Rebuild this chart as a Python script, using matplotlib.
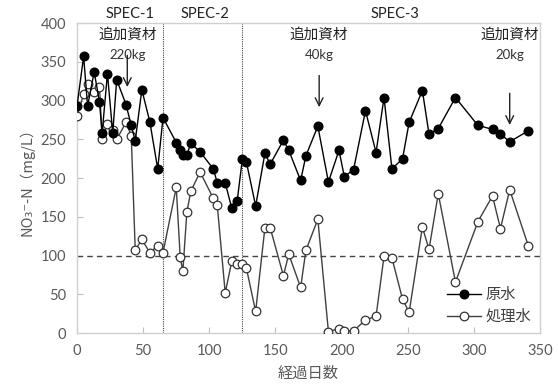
import matplotlib
matplotlib.use("Agg")
import matplotlib.pyplot as plt

plt.rcParams['font.family'] = ['Lato', 'Noto Sans CJK JP', 'DejaVu Sans']

days = [0, 5, 8, 13, 17, 19, 23, 27, 30, 37, 41, 44, 49, 55, 61, 65, 75, 78, 80, 83,
        86, 93, 103, 106, 112, 117, 121, 125, 128, 135, 142, 146, 156, 160, 169, 173,
        182, 190, 198, 202, 209, 218, 226, 232, 238, 246, 251, 261, 266, 273, 286,
        303, 314, 320, 327, 341]
raw = [293, 357, 293, 337, 298, 258, 335, 258, 327, 295, 268, 248, 314, 273, 212, 278,
       246, 236, 230, 230, 245, 234, 212, 194, 194, 161, 170, 225, 221, 164, 232, 218,
       249, 236, 197, 229, 267, 195, 236, 202, 211, 287, 233, 304, 212, 225, 272, 313,
       257, 264, 304, 268, 263, 257, 247, 261]
treated = [280, 308, 321, 311, 317, 251, 270, 262, 250, 272, 255, 107, 121, 104, 113, 104,
           188, 98, 80, 156, 183, 208, 174, 165, 52, 93, 89, 89, 84, 28, 136, 136,
           74, 102, 59, 107, 147, 2, 6, 3, 3, 17, 22, 99, 97, 44, 27, 137,
           108, 180, 66, 144, 177, 135, 185, 113]

spec_bounds = [65, 125]
spec_labels = ["SPEC-1", "SPEC-2", "SPEC-3"]
spec_centers = [40, 97, 240]
add_days = [38, 183, 327]
add_amounts = ["220kg", "40kg", "20kg"]
add_tips = [314, 288, 265]
threshold = 100

fig = plt.figure(figsize=(5.58, 3.92), dpi=100)
ax = fig.add_axes([0.138, 0.150, 0.830, 0.791])

ax.plot(days, treated, color='#404040', lw=1.0, marker='o', ms=6.2,
        mfc='white', mec='#333333', mew=0.9, label='処理水', zorder=3)
ax.plot(days, raw, color='black', lw=1.0, marker='o', ms=6.2,
        mfc='black', mec='black', label='原水', zorder=4)

ax.axhline(threshold, color='#444444', lw=1.0, ls=(0, (4, 3)), zorder=2)
for b in spec_bounds:
    ax.axvline(b, color='#444444', lw=0.8, ls=(0, (1, 1)), zorder=2)

ax.set_xlim(0, 350)
ax.set_ylim(0, 400)
ax.set_xticks(range(0, 351, 50))
ax.set_yticks(range(0, 401, 50))
ax.tick_params(direction='in', length=4, color='#bfbfbf', labelcolor='#595959',
               labelsize=10.5, pad=8)
for s in ax.spines.values():
    s.set_color('#d0d0d0')
    s.set_linewidth(1.0)

ax.set_xlabel('経過日数', fontsize=11, color='#595959', labelpad=6)
ax.set_ylabel('NO₃⁻-N（mg/L）', fontsize=10.5, color='#595959', labelpad=4,
              family=['Noto Sans CJK JP', 'DejaVu Sans'])

for lab, c in zip(spec_labels, spec_centers):
    ax.text(c, 403, lab, ha='center', va='bottom', fontsize=10.5, color='#222222')

for d, amt, tip in zip(add_days, add_amounts, add_tips):
    ax.text(d, 385, '追加資材', ha='center', va='center', fontsize=10.5, color='#222222')
    ax.text(d, 359, amt, ha='center', va='center', fontsize=9.5, color='#333333')
    ax.annotate('', xy=(d, tip), xytext=(d, tip + 48),
                arrowprops=dict(arrowstyle='->', color='#222222', lw=1.0,
                                mutation_scale=14))

handles, labels = ax.get_legend_handles_labels()
leg = ax.legend(handles[::-1], labels[::-1], loc='lower right', frameon=False,
                fontsize=11, handlelength=2.2, borderaxespad=0.2, labelspacing=0.5,
                handletextpad=0.3)
for t in leg.get_texts():
    t.set_color('#404040')

fig.savefig('out.png', dpi=100)
